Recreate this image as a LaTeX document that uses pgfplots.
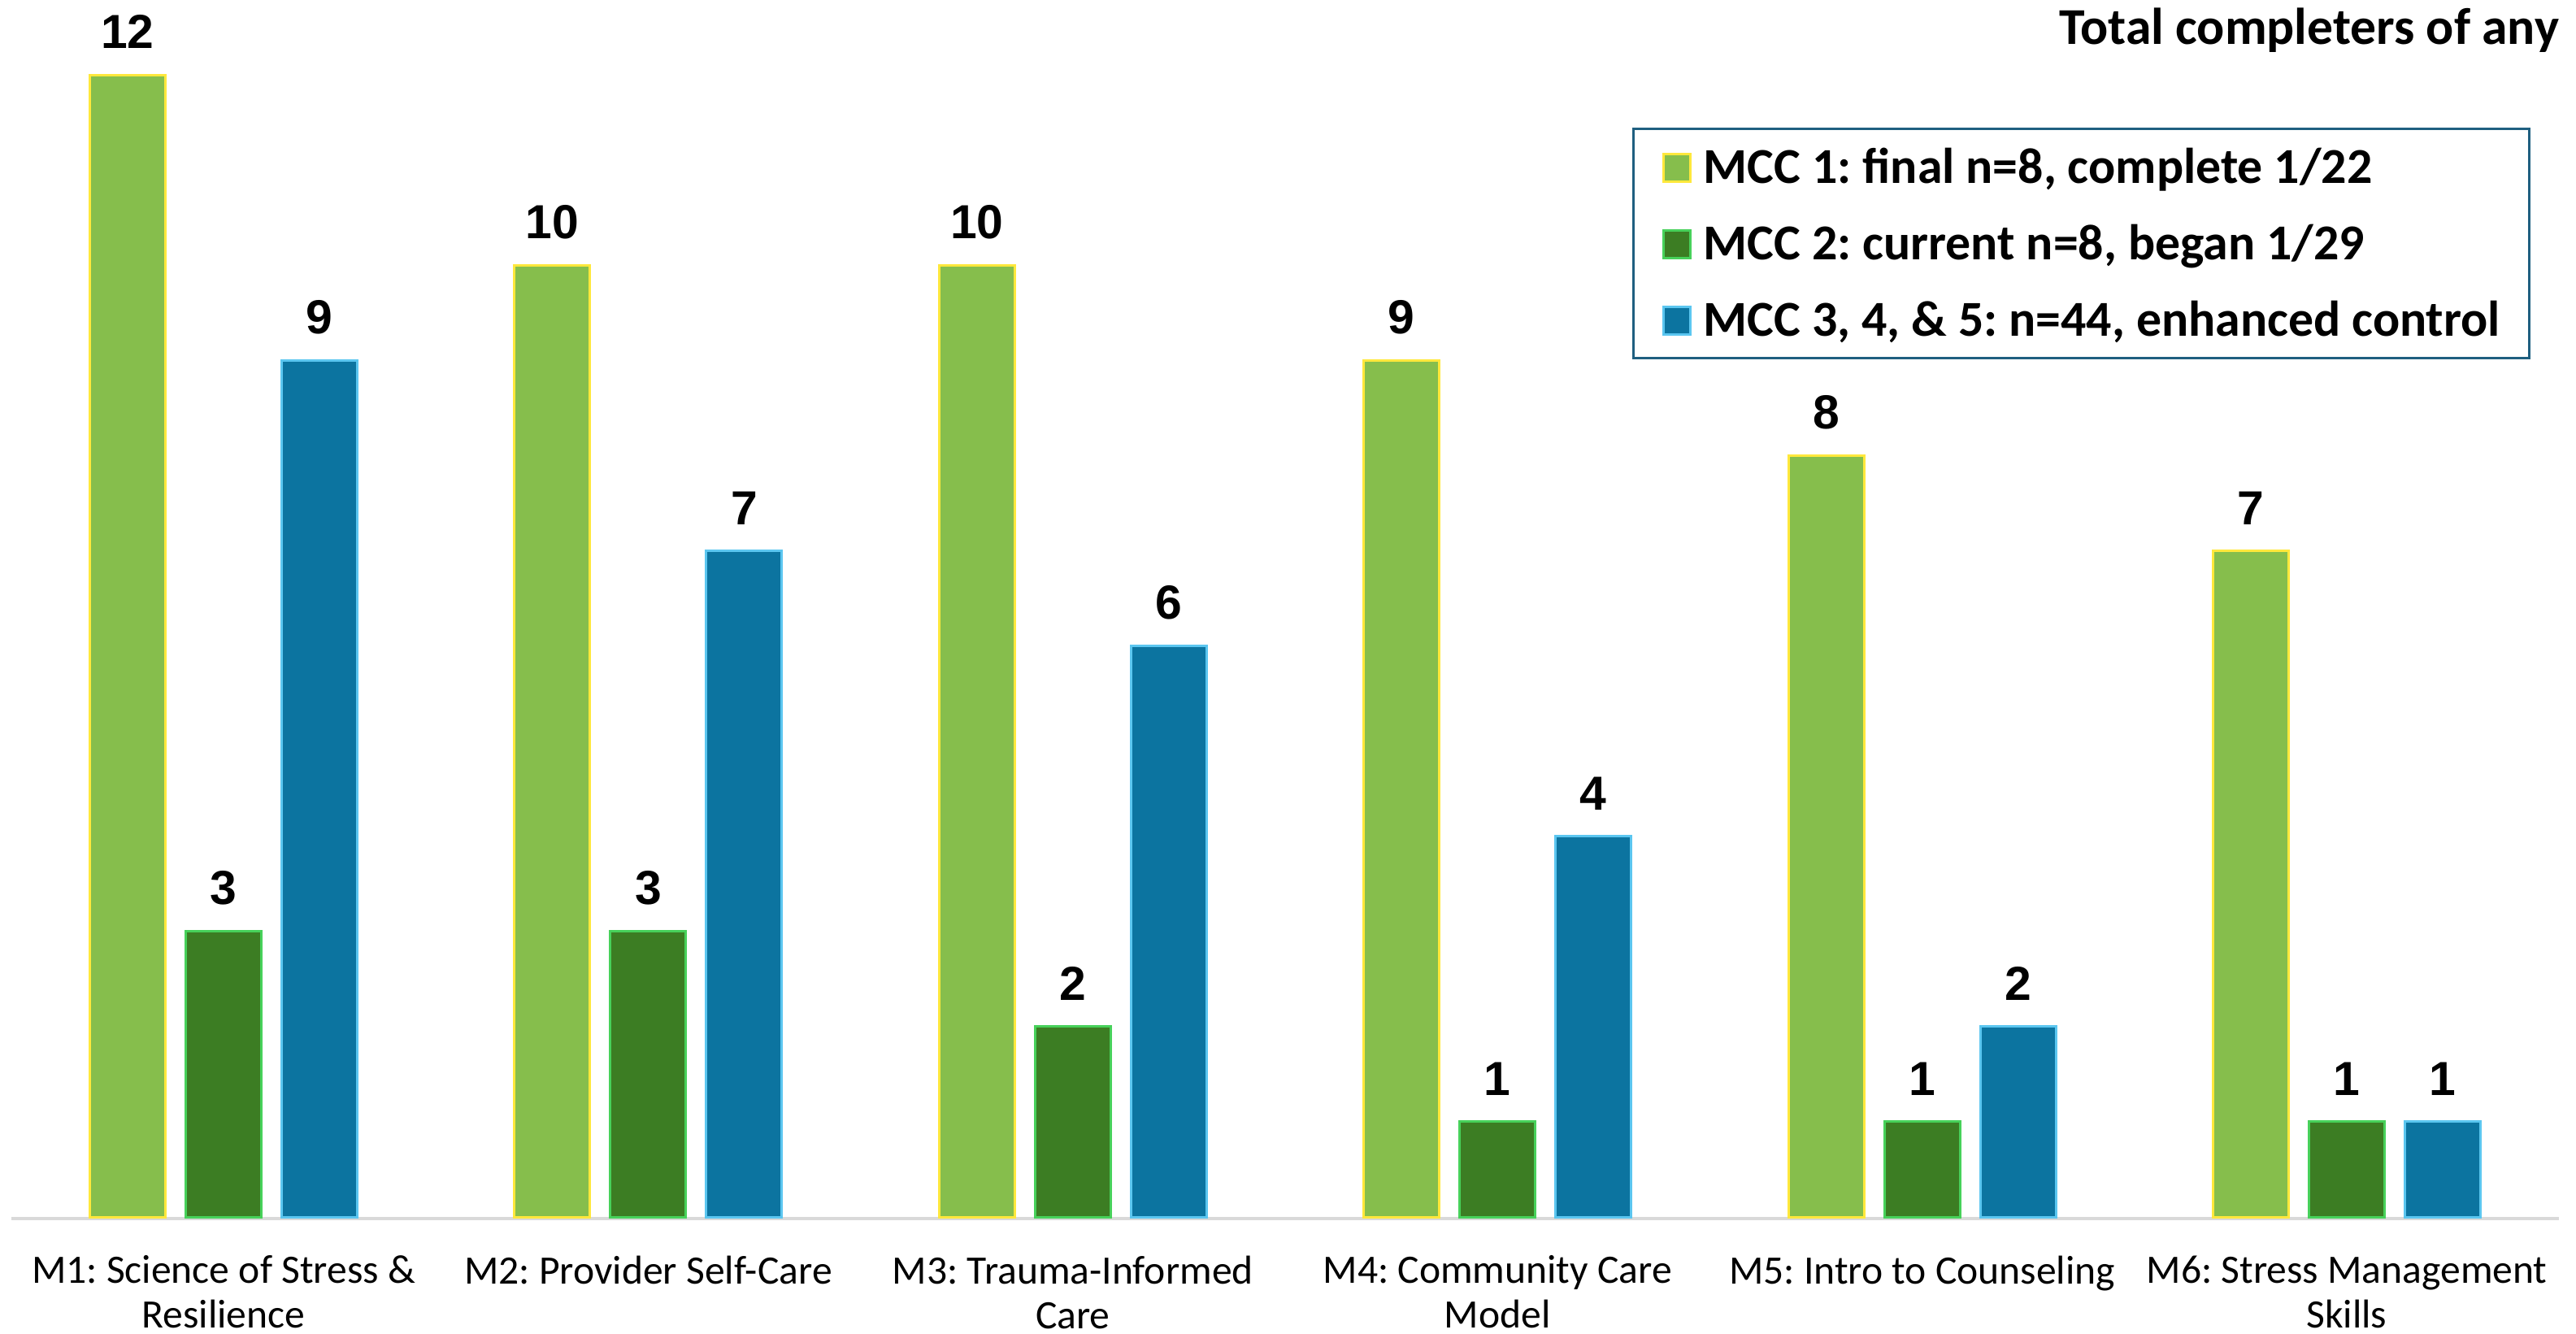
\documentclass[border=0pt]{standalone}
\usepackage{fontspec}
\setmainfont{Carlito}
\newfontfamily\labelfont{Liberation Sans}
\usepackage{pgfplots}
\pgfplotsset{compat=1.18}
\frenchspacing

\definecolor{mccA}{HTML}{86BE4C}
\definecolor{mccAline}{HTML}{FFE83C}
\definecolor{mccB}{HTML}{3C7D23}
\definecolor{mccBline}{HTML}{47D15A}
\definecolor{mccC}{HTML}{0C74A0}
\definecolor{mccCline}{HTML}{5BC6F0}
\definecolor{frameblue}{HTML}{1F5F80}
\definecolor{axisgray}{HTML}{D9D9D9}

% keeps the first line of every category label at the same height
\newcommand{\lh}{\vphantom{fl}}

\begin{document}
\begin{tikzpicture}
\path[use as bounding box] (0,0) rectangle (792.25pt,410pt);
\begin{axis}[
  at={(3.45pt,35.75pt)}, anchor=south west,
  scale only axis, width=783.6pt, height=374.25pt,
  xmin=-0.5, xmax=5.5, ymin=0, ymax=12.79,
  enlargelimits=false,
  ybar, bar width=23.25pt,
  clip=false,
  axis x line=bottom, axis y line=none,
  x axis line style={-, draw=axisgray, line width=1pt, yshift=-0.5pt},
  xtick={0,1,2,3,4,5},
  xticklabels={
    {\lh M1: Science of Stress \&\\Resilience},
    {\lh M2: Provider Self-Care},
    {\lh M3: Trauma-Informed\\Care},
    {\lh M4: Community Care\\Model},
    {\lh M5: Intro to Counseling},
    {\lh M6: Stress Management\\Skills}},
  major tick length=0pt,
  xticklabel style={align=center, font=\fontsize{12.4}{13.75}\selectfont,
    anchor=north, inner sep=0pt, yshift=-11.75pt},
  nodes near coords,
  every node near coord/.append style={font=\fontsize{14.7}{14.7}\labelfont\bfseries,
    inner sep=0pt, anchor=south, yshift=7.75pt, text=black},
  /pgf/number format/assume math mode=true,
  legend cell align=left,
  legend style={at={(rel axis cs:0.6362,0.8951)}, anchor=north west,
    draw=frameblue, line width=0.75pt,
    font=\fontsize{15.45}{15.45}\selectfont\bfseries,
    inner xsep=9pt, inner ysep=6.75pt, row sep=13.6pt,
    nodes={inner sep=0pt, text height=9.9pt, text depth=0pt}},
  legend image code/.code={
    \draw[#1, line width=0.75pt] (0.375pt,-4.575pt) rectangle (8.625pt,3.925pt);
    \path (12.25pt,0pt);},
]
\addplot[fill=mccA, draw=mccAline, line width=0.75pt, bar shift=-29.5pt]
  coordinates {(0,12) (1,10) (2,10) (3,9) (4,8) (5,7)};
\addplot[fill=mccB, draw=mccBline, line width=0.75pt, bar shift=0pt]
  coordinates {(0,3) (1,3) (2,2) (3,1) (4,1) (5,1)};
\addplot[fill=mccC, draw=mccCline, line width=0.75pt, bar shift=29.5pt]
  coordinates {(0,9) (1,7) (2,6) (3,4) (4,2) (5,1)};
\legend{{MCC 1: final n=8, complete 1/22},
        {MCC 2: current n=8, began 1/29},
        {MCC 3, 4, \& 5: n=44, enhanced control}}
\node[anchor=base east, inner sep=0pt, font=\fontsize{15.9}{15.9}\selectfont\bfseries]
  at (rel axis cs:1.0002,0.9633) {Total completers of any};
\end{axis}
\end{tikzpicture}
\end{document}
